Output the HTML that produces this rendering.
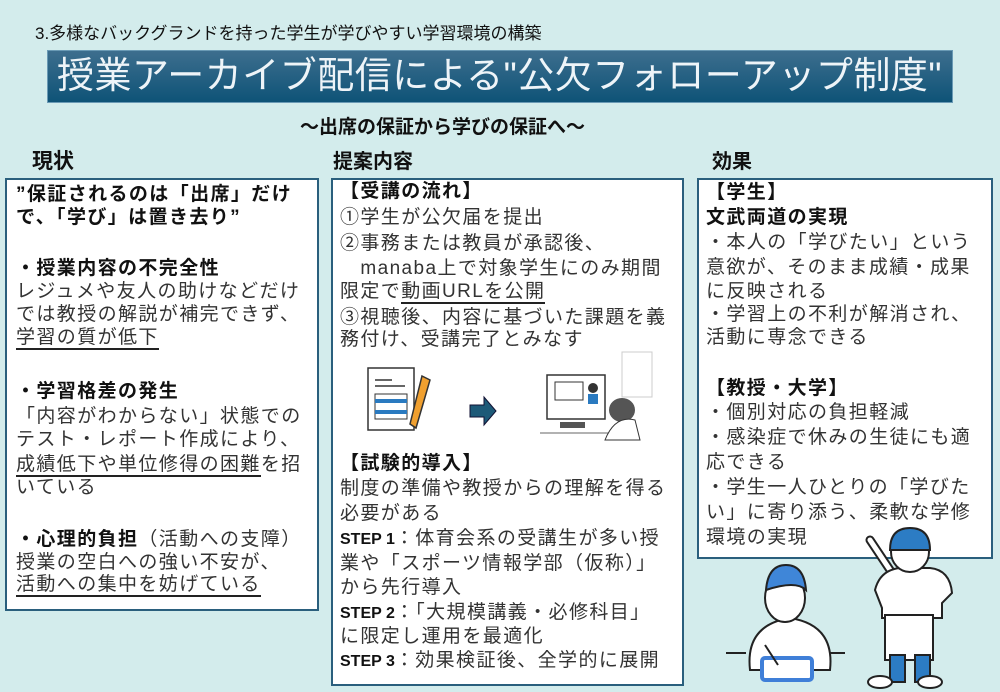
<!DOCTYPE html>
<html><head><meta charset="utf-8"><style>
*{margin:0;padding:0;box-sizing:border-box}
body{width:1000px;height:692px;background:#d3ecec;position:relative;overflow:hidden;font-family:"Liberation Sans","Noto Sans CJK JP",sans-serif;color:#333}
.a{position:absolute;white-space:nowrap}
.l{position:absolute;white-space:nowrap;font-size:19px;letter-spacing:1.4px;line-height:24px}
.b{font-weight:bold;color:#111}
.u{border-bottom:2px solid #222}
.box{position:absolute;background:#fff;border:2px solid #2a5f7d}
.h{position:absolute;font-size:21px;font-weight:bold;color:#111;line-height:24px}
.s{font-weight:bold;color:#111;font-size:16px;letter-spacing:0}
</style></head><body>
<div class="a" style="left:35px;top:23px;font-size:17px;color:#111;line-height:22px">3.多様なバックグランドを持った学生が学びやすい学習環境の構築</div>
<div class="a" style="left:47px;top:50px;width:906px;height:53px;background:linear-gradient(#3d6e8e,#0e5377);border:1px solid #6a9ab5"></div>
<div class="a" style="left:57px;top:54px;font-size:37px;color:#eef4f8;line-height:44px;letter-spacing:0.5px">授業アーカイブ配信による"公欠フォローアップ制度"</div>
<div class="a" style="left:300px;top:116px;font-size:19px;font-weight:bold;color:#111;line-height:24px">～出席の保証から学びの保証へ～</div>
<div class="h" style="left:32px;top:150px">現状</div>
<div class="h" style="left:333px;top:150px;font-size:20px">提案内容</div>
<div class="h" style="left:712px;top:150px;font-size:20px">効果</div>

<div class="box" style="left:5px;top:178px;width:314px;height:433px"></div>
<div class="box" style="left:331px;top:178px;width:353px;height:508px"></div>
<div class="box" style="left:697px;top:178px;width:296px;height:381px"></div>

<!-- left -->
<div class="l b" style="left:16px;top:183px">”保証されるのは「出席」だけ</div>
<div class="l b" style="left:16px;top:206px">で、「学び」は置き去り”</div>
<div class="l b" style="left:16px;top:257px">・授業内容の不完全性</div>
<div class="l" style="left:16px;top:280px"> レジュメや友人の助けなどだけ</div>
<div class="l" style="left:16px;top:303px">では教授の解説が補完できず、</div>
<div class="l" style="left:16px;top:326px"><span class="u">学習の質が低下</span></div>
<div class="l b" style="left:16px;top:380px">・学習格差の発生</div>
<div class="l" style="left:16px;top:405px">「内容がわからない」状態での</div>
<div class="l" style="left:16px;top:428px">テスト・レポート作成により、</div>
<div class="l" style="left:16px;top:453px"><span class="u">成績低下や単位修得の困難</span>を招</div>
<div class="l" style="left:16px;top:476px">いている</div>
<div class="l" style="left:16px;top:528px"><span class="b">・心理的負担</span>（活動への支障）</div>
<div class="l" style="left:16px;top:551px"> 授業の空白への強い不安が、</div>
<div class="l" style="left:16px;top:573px"><span class="u"> 活動への集中を妨げている</span></div>

<!-- middle -->
<div class="l b" style="left:340px;top:180px">【受講の流れ】</div>
<div class="l" style="left:340px;top:206px">①学生が公欠届を提出</div>
<div class="l" style="left:340px;top:232px">②事務または教員が承認後、</div>
<div class="l" style="left:340px;top:257px">　manaba上で対象学生にのみ期間</div>
<div class="l" style="left:340px;top:280px">限定で<span class="u">動画URLを公開</span></div>
<div class="l" style="left:340px;top:306px">③視聴後、内容に基づいた課題を義</div>
<div class="l" style="left:340px;top:328px">務付け、受講完了とみなす</div>

<svg class="a" style="left:360px;top:350px" width="300" height="95" viewBox="0 0 300 95">
 <g fill="none" stroke="#333" stroke-width="1.5">
  <rect x="8" y="18" width="46" height="62" fill="#fff"/>
  <line x1="15" y1="30" x2="32" y2="30"/><line x1="15" y1="36" x2="45" y2="36"/>
 </g>
 <rect x="15" y="44" width="32" height="25" fill="#fff" stroke="#333"/>
 <rect x="15" y="49" width="32" height="4" fill="#2a7ac0"/><rect x="15" y="60" width="32" height="4" fill="#2a7ac0"/>
 <polygon points="62,26 70,30 56,78 50,74" fill="#f0a030" stroke="#333" stroke-width="1.5"/>
 <path d="M110,55 h14 v-8 l12,14 l-12,14 v-8 h-14z" fill="#1d5a78" stroke="#113" stroke-width="1"/>
 <rect x="187" y="25" width="58" height="44" fill="#fff" stroke="#333" stroke-width="1.5"/>
 <rect x="195" y="32" width="28" height="18" fill="#fff" stroke="#333"/>
 <circle cx="233" cy="38" r="5" fill="#333"/><rect x="228" y="44" width="10" height="10" fill="#2a7ac0"/>
 <rect x="200" y="72" width="25" height="6" fill="#555"/>
 <line x1="180" y1="83" x2="270" y2="83" stroke="#666"/>
 <ellipse cx="262" cy="60" rx="13" ry="12" fill="#555"/>
 <path d="M245,90 q10,-25 30,-20 l5,20z" fill="#fff" stroke="#333"/>
 <rect x="262" y="2" width="30" height="45" fill="none" stroke="#ccc"/>
</svg>

<div class="l b" style="left:340px;top:452px">【試験的導入】</div>
<div class="l" style="left:340px;top:477px">制度の準備や教授からの理解を得る</div>
<div class="l" style="left:340px;top:502px">必要がある</div>
<div class="l" style="left:340px;top:527px"><span class="s">STEP 1</span>：体育会系の受講生が多い授</div>
<div class="l" style="left:340px;top:552px">業や「スポーツ情報学部（仮称）」</div>
<div class="l" style="left:340px;top:576px">から先行導入</div>
<div class="l" style="left:340px;top:601px"><span class="s">STEP 2</span>：「大規模講義・必修科目」</div>
<div class="l" style="left:340px;top:625px">に限定し運用を最適化</div>
<div class="l" style="left:340px;top:649px"><span class="s">STEP 3</span>：効果検証後、全学的に展開</div>

<!-- right -->
<div class="l b" style="left:706px;top:181px">【学生】</div>
<div class="l b" style="left:706px;top:206px">文武両道の実現</div>
<div class="l" style="left:706px;top:231px">・本人の「学びたい」という</div>
<div class="l" style="left:706px;top:256px">意欲が、そのまま成績・成果</div>
<div class="l" style="left:706px;top:280px">に反映される</div>
<div class="l" style="left:706px;top:303px">・学習上の不利が解消され、</div>
<div class="l" style="left:706px;top:326px">活動に専念できる</div>
<div class="l b" style="left:706px;top:377px">【教授・大学】</div>
<div class="l" style="left:706px;top:401px">・個別対応の負担軽減</div>
<div class="l" style="left:706px;top:426px">・感染症で休みの生徒にも適</div>
<div class="l" style="left:706px;top:451px">応できる</div>
<div class="l" style="left:706px;top:476px">・学生一人ひとりの「学びた</div>
<div class="l" style="left:706px;top:501px">い」に寄り添う、柔軟な学修</div>
<div class="l" style="left:706px;top:526px">環境の実現</div>

<svg class="a" style="left:690px;top:520px" width="310" height="172" viewBox="0 0 310 172">
 <g stroke="#222" stroke-width="2">
  <line x1="36" y1="133" x2="56" y2="133"/><line x1="138" y1="133" x2="155" y2="133"/>
  <path d="M60,150 q-5,-45 40,-52 q45,7 40,52z" fill="#fff"/>
  <ellipse cx="95" cy="78" rx="20" ry="24" fill="#fff"/>
  <path d="M76,70 q2,-25 20,-25 q18,0 20,25 q-10,-10 -40,0z" fill="#3f86d8"/>
  <rect x="72" y="138" width="50" height="22" rx="3" fill="#fff" stroke="#3f7fd8" stroke-width="4"/>
  <line x1="75" y1="125" x2="88" y2="145"/>
  <line x1="180" y1="20" x2="210" y2="65" stroke-width="9" stroke-linecap="round"/>
  <line x1="180" y1="20" x2="210" y2="65" stroke="#fff" stroke-width="5" stroke-linecap="round"/>
  <path d="M185,70 q5,-20 25,-22 h30 q20,2 22,25 l-10,10 v15 h-60 v-10z" fill="#fff"/>
  <rect x="195" y="95" width="48" height="45" fill="#fff"/>
  <rect x="200" y="135" width="15" height="27" fill="#2c7cc4"/><rect x="225" y="135" width="15" height="27" fill="#2c7cc4"/>
  <ellipse cx="190" cy="162" rx="12" ry="6" fill="#fff"/><ellipse cx="240" cy="162" rx="12" ry="6" fill="#fff"/>
  <ellipse cx="220" cy="32" rx="19" ry="20" fill="#fff"/>
  <path d="M200,30 q0,-22 20,-22 q20,0 20,22 z" fill="#2c7cc4"/>
 </g>
</svg>
</body></html>
